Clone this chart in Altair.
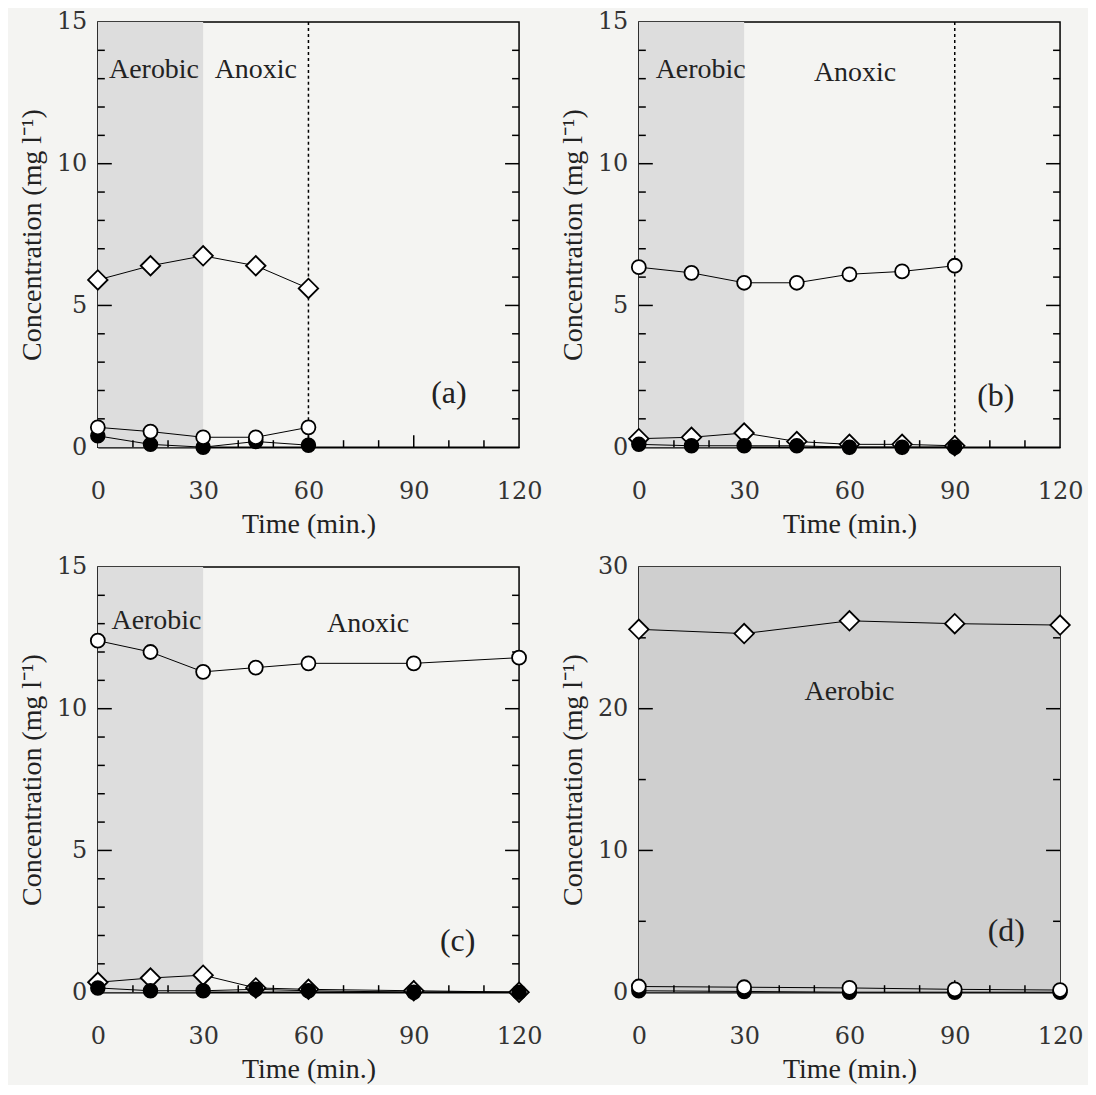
import altair as alt
import pandas as pd

# ---------------- data ----------------
# panel (a)
a_time = [0, 15, 30, 45, 60]
a_diamond = [5.9, 6.4, 6.75, 6.4, 5.6]
a_open = [0.7, 0.55, 0.35, 0.35, 0.7]
a_filled = [0.4, 0.1, 0.0, 0.2, 0.07]

# panel (b)
b_time = [0, 15, 30, 45, 60, 75, 90]
b_open = [6.35, 6.15, 5.8, 5.8, 6.1, 6.2, 6.4]
b_diamond = [0.3, 0.35, 0.5, 0.2, 0.1, 0.1, 0.05]
b_filled = [0.1, 0.05, 0.05, 0.05, 0.0, 0.0, 0.0]

# panel (c)
c_time = [0, 15, 30, 45, 60, 90, 120]
c_open = [12.4, 12.0, 11.3, 11.45, 11.6, 11.6, 11.8]
c_diamond = [0.35, 0.5, 0.6, 0.15, 0.1, 0.05, 0.0]
c_filled = [0.15, 0.05, 0.05, 0.1, 0.05, 0.0, 0.0]

# panel (d)
d_time = [0, 30, 60, 90, 120]
d_diamond = [25.6, 25.3, 26.2, 26.0, 25.9]
d_open = [0.4, 0.35, 0.3, 0.2, 0.15]
d_filled = [0.1, 0.05, 0.0, 0.0, 0.0]

x_ticks = [0, 30, 60, 90, 120]
x_minor = [10, 20, 40, 50, 70, 80, 100, 110]
x_major_inner = [30, 60, 90]

W = 422
H = 426

SERIF = "Liberation Serif"


def panel(time, diam, openc, filled, ymax, ymajor, yminor, phase, shade,
          dashed, notes, letter, letter_pos):
    rows = []
    for s, vals in (("diamond", diam), ("filled", filled), ("open", openc)):
        for t, v in zip(time, vals):
            rows.append({"time": t, "value": v, "series": s})
    df = pd.DataFrame(rows)

    xs = alt.Scale(domain=[0, 120], nice=False, zero=False)
    ys = alt.Scale(domain=[0, ymax], nice=False)
    xaxis = alt.Axis(values=x_ticks, title="Time (min.)", labelFlush=False,
                     ticks=False, grid=False, labelPadding=32, titlePadding=7)
    yaxis = alt.Axis(values=list(range(0, ymax + 1, ymajor)),
                     title="Concentration (mg  l⁻¹)", ticks=False, grid=False,
                     labelPadding=11, titlePadding=10)
    X = lambda: alt.X("time:Q", scale=xs, axis=xaxis)
    Y = lambda: alt.Y("value:Q", scale=ys, axis=yaxis)

    layers = []
    # shaded aerobic phase
    layers.append(
        alt.Chart(pd.DataFrame({"time": [phase[0]], "end": [phase[1]]}))
        .mark_rect(color=shade)
        .encode(x=X(), x2="end:Q", y=alt.value(0), y2=alt.value(H))
    )
    # dashed end line
    if dashed is not None:
        layers.append(
            alt.Chart(pd.DataFrame({"time": [dashed]}))
            .mark_rule(color="black", strokeDash=[3, 3], strokeWidth=1.5)
            .encode(x=X())
        )
    # inward ticks on y (left and right)
    minor_vals = [v for v in range(0, ymax + 1, yminor) if v % ymajor != 0]
    major_vals = [v for v in range(ymajor, ymax, ymajor)]
    tmin = pd.DataFrame({"value": minor_vals})
    tmaj = pd.DataFrame({"value": major_vals})
    for tdf, ln in ((tmin, 7), (tmaj, 14)):
        layers.append(alt.Chart(tdf).mark_rule(color="black", strokeWidth=1.5)
                      .encode(y=Y(), x=alt.value(0), x2=alt.value(ln)))
        layers.append(alt.Chart(tdf).mark_rule(color="black", strokeWidth=1.5)
                      .encode(y=Y(), x=alt.value(W), x2=alt.value(W - ln)))
    # inward ticks on x
    for vals, ln in ((x_minor, 7), (x_major_inner, 12)):
        layers.append(alt.Chart(pd.DataFrame({"time": vals}))
                      .mark_rule(color="black", strokeWidth=1.5)
                      .encode(x=X(), y=alt.value(H), y2=alt.value(H - ln)))
    # lines
    layers.append(
        alt.Chart(df).mark_line(color="black", strokeWidth=1)
        .encode(x=X(), y=Y(), detail="series:N", order="time:Q")
    )
    # markers
    layers.append(
        alt.Chart(df[df.series == "diamond"])
        .mark_point(shape="diamond", filled=True, fill="white", stroke="black",
                    strokeWidth=1.8, size=380, opacity=1)
        .encode(x=X(), y=Y())
    )
    layers.append(
        alt.Chart(df[df.series == "filled"])
        .mark_point(shape="circle", filled=True, fill="black", stroke="black",
                    strokeWidth=1.5, size=196, opacity=1)
        .encode(x=X(), y=Y())
    )
    layers.append(
        alt.Chart(df[df.series == "open"])
        .mark_point(shape="circle", filled=True, fill="white", stroke="black",
                    strokeWidth=1.8, size=196, opacity=1)
        .encode(x=X(), y=Y())
    )
    # annotations
    for txt, tx, ty in notes:
        layers.append(
            alt.Chart().mark_text(text=txt, font=SERIF, fontSize=28, color="#222")
            .encode(x=alt.datum(tx, scale=xs), y=alt.datum(ty, scale=ys))
        )
    layers.append(
        alt.Chart().mark_text(text=letter, font=SERIF, fontSize=32, color="#222")
        .encode(x=alt.datum(letter_pos[0], scale=xs),
                y=alt.datum(letter_pos[1], scale=ys))
    )
    return alt.layer(*layers).properties(width=W, height=H)


pa = panel(a_time, a_diamond, a_open, a_filled, 15, 5, 1, [0, 30], "#dddddd",
           60, [("Aerobic", 16, 13.3), ("Anoxic", 45, 13.3)], "(a)", (100, 1.9))
pb = panel(b_time, b_diamond, b_open, b_filled, 15, 5, 1, [0, 30], "#dddddd",
           90, [("Aerobic", 17.6, 13.3), ("Anoxic", 61.6, 13.2)], "(b)", (101.7, 1.8))
pc = panel(c_time, c_diamond, c_open, c_filled, 15, 5, 1, [0, 30], "#dddddd",
           None, [("Aerobic", 16.7, 13.1), ("Anoxic", 77, 13.0)], "(c)", (102.5, 1.8))
pd_ = panel(d_time, d_diamond, d_open, d_filled, 30, 10, 5, [0, 120], "#cfcfcf",
            None, [("Aerobic", 60, 21.2)], "(d)", (104.7, 4.3))

top = alt.hconcat(pa, pb, spacing=15)
bottom = alt.hconcat(pc, pd_, spacing=15)

chart = (
    alt.vconcat(top, bottom, spacing=15)
    .properties(background="#f4f4f2",
                padding={"left": 9, "top": 0, "right": 4, "bottom": 0})
    .configure_view(stroke="black", strokeWidth=1.5)
    .configure_axis(domainColor="black", domainWidth=1.5,
                    labelFont="DejaVu Serif", labelFontSize=24,
                    labelColor="#333", titleFont=SERIF, titleFontSize=28,
                    titleFontWeight="normal", titleColor="#222")
)

chart.save("out.html", embed_options={"renderer": "svg", "actions": False})
